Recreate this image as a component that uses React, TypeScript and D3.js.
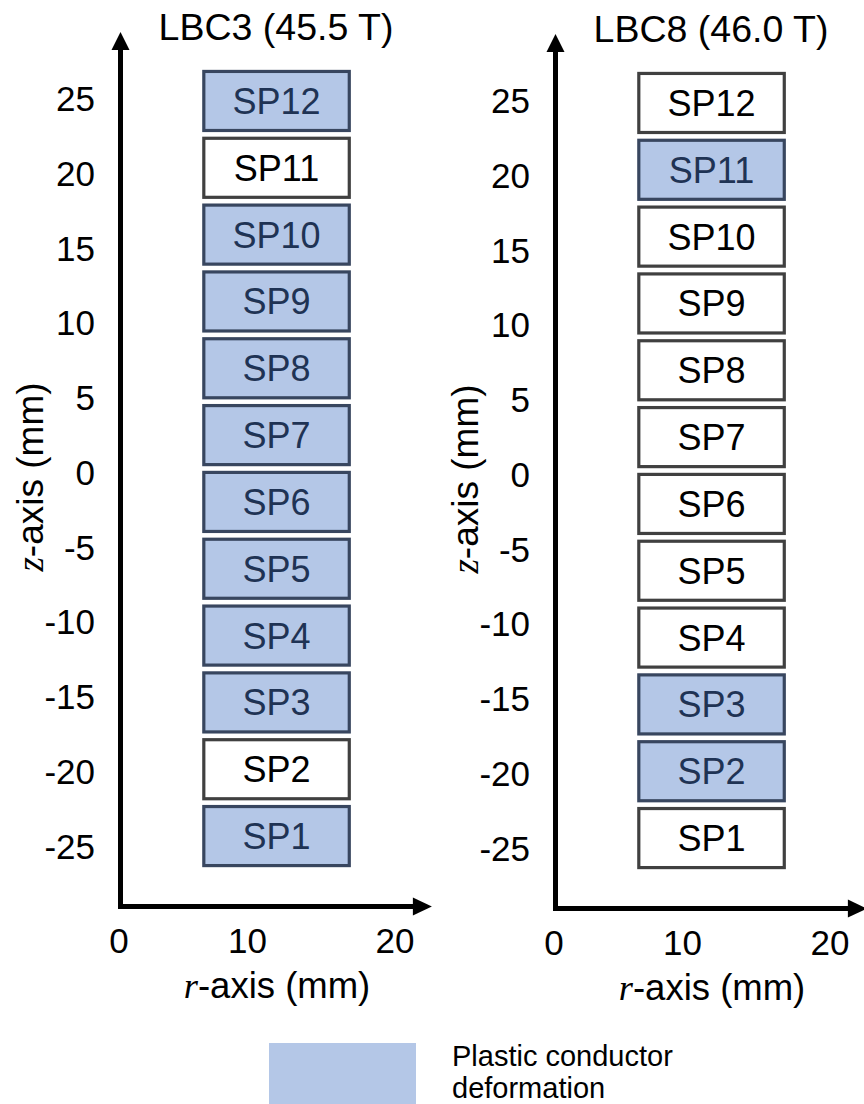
import React from "react";
import * as d3 from "d3";

// ---- data ----
const spLabels = ["SP1", "SP2", "SP3", "SP4", "SP5", "SP6", "SP7", "SP8", "SP9", "SP10", "SP11", "SP12"];
const lbc3Deformed = [true, false, true, true, true, true, true, true, true, true, false, true];
const lbc8Deformed = [false, true, true, false, false, false, false, false, false, false, true, false];
const panelTitles = ["LBC3 (45.5 T)", "LBC8 (46.0 T)"];
const zTicks = [25, 20, 15, 10, 5, 0, -5, -10, -15, -20, -25];
const rTicks = [0, 10, 20];
const legendLabel = ["Plastic conductor", "deformation"];

// geometry (mm)
const spPitch = 4.47;
const spHeight = 3.95;
const stackOffset = 0.25;
const rInner = 6.6;
const rOuter = 16.9;
const zAxisMin = -29.05;
const zAxisMax = 29.45;
const rAxisMax = 22.5;

const W = 864;
const H = 1104;
const FILL = "#b4c7e7";
const BLUE_STROKE = "#38465f";
const BLUE_TEXT = "#1f3354";
const WHITE_STROKE = "#404040";
const SANS = "'Liberation Sans', Arial, sans-serif";
const SERIF = "'Liberation Serif', 'Times New Roman', serif";

function Panel({ dx, dy, title, deformed }: { dx: number; dy: number; title: string; deformed: boolean[] }) {
  const xs = d3.scaleLinear().domain([0, 10, 20]).range([119 + dx, 247.5 + dx, 395 + dx]);
  const ys = d3.scaleLinear().domain([25, -25]).range([98.5 + dy, 846 + dy]);
  const x0 = xs(0) + 1.5;
  const yBot = ys(zAxisMin);
  const yTop = ys(zAxisMax);
  const xEnd = xs(rAxisMax);
  const sw = 5;
  const boxes = spLabels.map((lab, i) => {
    const zc = (i - 5.5) * spPitch + stackOffset;
    return { lab, zc, def: deformed[i] };
  });
  return (
    <g>
      <text x={(xs(0) + xs(20)) / 2 + 19} y={40 + dy} fontFamily={SANS} fontSize={37.5} textAnchor="middle" fill="#000">
        {title}
      </text>
      {boxes.map((b) => {
        const yt = ys(b.zc + spHeight / 2);
        const yb = ys(b.zc - spHeight / 2);
        const xl = xs(rInner);
        const xr = xs(rOuter);
        return (
          <g key={b.lab}>
            <rect
              x={xl}
              y={yt}
              width={xr - xl}
              height={yb - yt}
              fill={b.def ? FILL : "#fff"}
              stroke={b.def ? BLUE_STROKE : WHITE_STROKE}
              strokeWidth={3.2}
            />
            <text
              x={(xl + xr) / 2}
              y={(yt + yb) / 2}
              dy="0.36em"
              textAnchor="middle"
              fontFamily={SANS}
              fontSize={36}
              fill={b.def ? BLUE_TEXT : "#000"}
            >
              {b.lab}
            </text>
          </g>
        );
      })}
      <line x1={x0} x2={x0} y1={yBot + sw / 2} y2={yTop + 16} stroke="#000" strokeWidth={sw} />
      <path d={`M${x0},${yTop} L${x0 - 9},${yTop + 18} L${x0 + 9},${yTop + 18} Z`} fill="#000" />
      <line x1={x0 - sw / 2} x2={xEnd - 16} y1={yBot} y2={yBot} stroke="#000" strokeWidth={sw} />
      <path d={`M${xEnd},${yBot} L${xEnd - 19},${yBot - 9} L${xEnd - 19},${yBot + 9} Z`} fill="#000" />
      {zTicks.map((t) => (
        <text key={t} x={95 + dx} y={ys(t)} dy="0.36em" textAnchor="end" fontFamily={SANS} fontSize={35} fill="#000">
          {t}
        </text>
      ))}
      {rTicks.map((t) => (
        <text key={t} x={xs(t)} y={953 + dy} textAnchor="middle" fontFamily={SANS} fontSize={35} fill="#000">
          {t}
        </text>
      ))}
      <text x={277 + dx} y={998 + dy} textAnchor="middle" fontFamily={SANS} fontSize={36.5} fill="#000">
        <tspan fontFamily={SERIF} fontStyle="italic">r</tspan>
        <tspan>-axis (mm)</tspan>
      </text>
      <text
        transform={`translate(${30 + dx},${477 + dy}) rotate(-90)`}
        dy="0.36em"
        textAnchor="middle"
        fontFamily={SANS}
        fontSize={37}
        fill="#000"
      >
        <tspan fontFamily={SERIF} fontStyle="italic">z</tspan>
        <tspan>-axis (mm)</tspan>
      </text>
    </g>
  );
}

export default function App() {
  return (
    <div style={{ position: "absolute", left: 0, top: 0, width: W, height: H, background: "#fff" }}>
      <svg width={W} height={H} viewBox={`0 0 ${W} ${H}`} style={{ display: "block" }}>
        <rect width={W} height={H} fill="#fff" />
        <Panel dx={0} dy={0} title={panelTitles[0]} deformed={lbc3Deformed} />
        <Panel dx={435} dy={2} title={panelTitles[1]} deformed={lbc8Deformed} />
        <rect x={269} y={1043} width={147} height={70} fill={FILL} />
        <text x={452} y={1066} fontFamily={SANS} fontSize={29} fill="#000">
          {legendLabel[0]}
        </text>
        <text x={452} y={1098} fontFamily={SANS} fontSize={29} fill="#000">
          {legendLabel[1]}
        </text>
      </svg>
    </div>
  );
}
